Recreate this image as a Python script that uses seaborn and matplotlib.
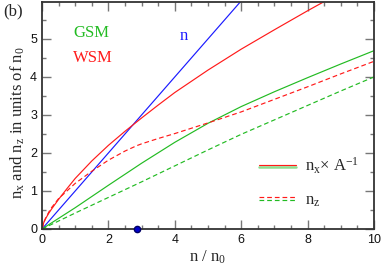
import numpy as np
import pandas as pd
import matplotlib
matplotlib.use('Agg')
import matplotlib.pyplot as plt
import seaborn as sns
from matplotlib.legend_handler import HandlerBase
from matplotlib.lines import Line2D
from matplotlib.ticker import MultipleLocator

# data (n in units of n0)
n_blue_x = [0, 6.0]
n_blue_y = [0, 6.0]

wsm_x_x = [0, 0.05, 0.1, 0.2, 0.3, 0.5, 0.75, 1.0, 1.5, 2.0, 2.5, 3.0, 3.5, 4.0, 5.0, 6.0, 7.0, 8.0, 8.6]
wsm_x_y = [0, 0.16, 0.26, 0.41, 0.54, 0.78, 1.06, 1.33, 1.79, 2.2, 2.57, 2.92, 3.26, 3.59, 4.18, 4.73, 5.24, 5.74, 6.03]

wsm_z_x = [0, 0.05, 0.1, 0.25, 0.5, 1.0, 1.5, 2.0, 2.5, 2.85, 3.0, 3.5, 4.0, 4.5, 5.0, 6.0, 7.0, 8.0, 9.0, 10.0]
wsm_z_y = [0, 0.16, 0.27, 0.52, 0.8, 1.2, 1.52, 1.81, 2.05, 2.19, 2.24, 2.38, 2.51, 2.65, 2.79, 3.08, 3.41, 3.74, 4.08, 4.41]

gsm_x_x = [0, 1.0, 2.0, 3.0, 4.0, 5.0, 6.0, 7.0, 8.0, 9.0, 10.0]
gsm_x_y = [0, 0.56, 1.15, 1.73, 2.28, 2.78, 3.22, 3.61, 3.98, 4.34, 4.69]

gsm_z_x = [0, 1.0, 2.0, 3.0, 4.0, 5.0, 6.0, 7.0, 8.0, 9.0, 10.0]
gsm_z_y = [0, 0.42, 0.83, 1.24, 1.66, 2.08, 2.49, 2.87, 3.25, 3.63, 4.0]

dot_x = [2.87]
dot_y = [0]

RED = '#ff1a1a'
GREEN = '#22bb22'
BLUE = '#1a1aff'

sns.set_theme(style='ticks')
plt.rcParams['font.family'] = ['Liberation Serif', 'DejaVu Serif']
plt.rcParams['mathtext.fontset'] = 'custom'
plt.rcParams['mathtext.rm'] = 'Liberation Serif'
plt.rcParams['mathtext.it'] = 'Liberation Serif'

fig = plt.figure(figsize=(3.84, 2.71), dpi=100)
ax = fig.add_axes([0.1094, 0.155, 0.8646, 0.8376])

lw = 0.85
sns.lineplot(x=n_blue_x, y=n_blue_y, ax=ax, color=BLUE, lw=lw)
sns.lineplot(x=wsm_x_x, y=wsm_x_y, ax=ax, color=RED, lw=lw)
sns.lineplot(x=gsm_x_x, y=gsm_x_y, ax=ax, color=GREEN, lw=lw)
sns.lineplot(x=wsm_z_x, y=wsm_z_y, ax=ax, color=RED, lw=lw)
sns.lineplot(x=gsm_z_x, y=gsm_z_y, ax=ax, color=GREEN, lw=lw)
ax.lines[3].set_dashes((4, 2.5))
ax.lines[4].set_dashes((4, 2.5))

ax.plot(dot_x, dot_y, 'o', color='#0000cc', mec='#000066', ms=4.5, clip_on=False, zorder=5)

ax.set_xlim(0, 10)
ax.set_ylim(0, 5.97)
ax.xaxis.set_major_locator(MultipleLocator(2))
ax.xaxis.set_minor_locator(MultipleLocator(0.5))
ax.yaxis.set_major_locator(MultipleLocator(1))
ax.yaxis.set_minor_locator(MultipleLocator(0.5))
ax.tick_params(which='both', direction='in', top=True, right=True, color='#777777', width=1)
ax.tick_params(which='major', length=6.5, pad=3.5)
ax.tick_params(which='minor', length=3)
for lab in ax.get_xticklabels() + ax.get_yticklabels():
    lab.set_fontfamily('Liberation Sans')
    lab.set_fontsize(9)
    lab.set_color('#111111')
for sp in ax.spines.values():
    sp.set_color('#333333')
    sp.set_linewidth(1.3)

ax.set_xlabel(r'n / n$_\mathrm{0}$', fontsize=12)
ax.xaxis.set_label_coords(0.5, -0.085)
ax.set_ylabel(r'n$_\mathrm{x}$ and n$_\mathrm{z}$ in units of n$_\mathrm{0}$', fontsize=12)
ax.yaxis.set_label_coords(-0.046, 0.47)

ax.text(0.93, 5.06, 'GSM', color=GREEN, fontsize=12)
ax.text(0.93, 4.40, 'WSM', color=RED, fontsize=12)
ax.text(4.16, 4.97, 'n', color=BLUE, fontsize=12)
fig.text(0.008, 0.945, '(b)', fontsize=12)


class HandlerTwoLines(HandlerBase):
    def create_artists(self, legend, orig_handle, xdescent, ydescent,
                       width, height, fontsize, trans):
        out = []
        offs = [0.62, 0.38]
        for h, o in zip(orig_handle, offs):
            ln = Line2D([-xdescent, width - xdescent], [o * height - ydescent] * 2)
            ln.update_from(h)
            ln.set_transform(trans)
            out.append(ln)
        return out


h1 = (Line2D([], [], color=RED, lw=lw), Line2D([], [], color=GREEN, lw=1.8, alpha=0.5))
h2 = (Line2D([], [], color=RED, lw=lw, dashes=(4, 2.5)), Line2D([], [], color=GREEN, lw=lw, dashes=(4, 2.5)))
ax.legend([h1, h2], [r'n$_\mathrm{x}$$\times$ A$^{-1}$', r'n$_\mathrm{z}$'],
          handler_map={tuple: HandlerTwoLines()}, frameon=False, fontsize=12,
          loc='center left', bbox_to_anchor=(0.628, 0.205), borderpad=0,
          handlelength=2.25, handletextpad=0.5, labelspacing=0.95)

fig.savefig('out.png', dpi=100)
